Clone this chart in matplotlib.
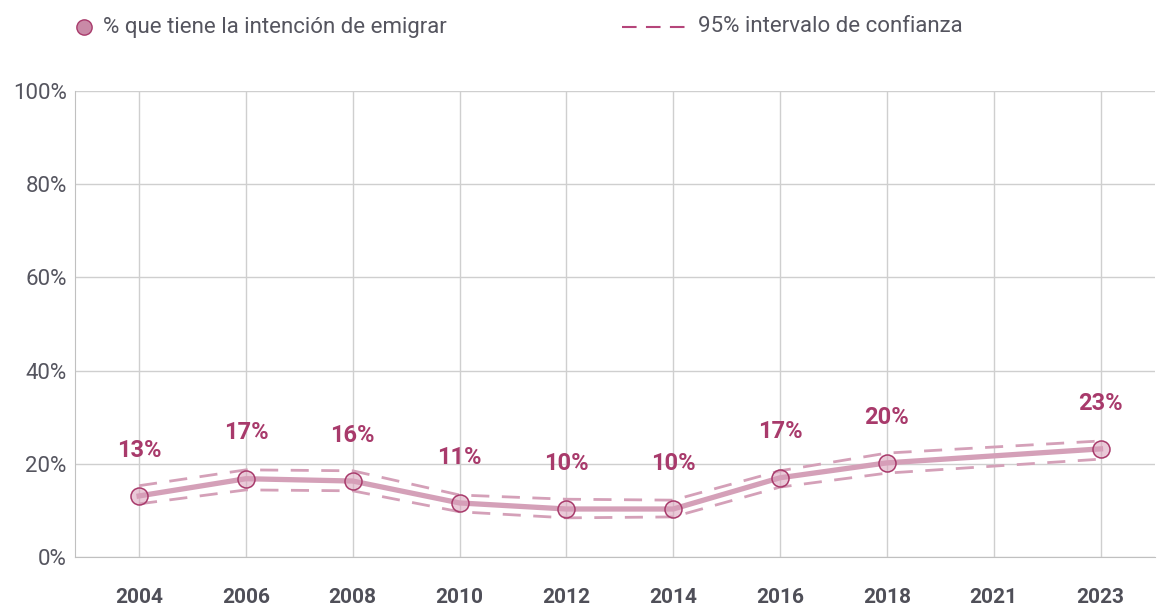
import numpy as np
import matplotlib
matplotlib.use("Agg")
import matplotlib.pyplot as plt
from matplotlib.lines import Line2D

plt.rcParams['font.family'] = ['Roboto', 'DejaVu Sans']

years = ["2004", "2006", "2008", "2010", "2012", "2014", "2016", "2018", "2021", "2023"]
pct = [13.1, 16.8, 16.3, 11.6, 10.3, 10.3, 17.0, 20.2, None, 23.2]
upper = [15.3, 18.7, 18.5, 13.3, 12.4, 12.2, 18.5, 22.3, None, 24.9]
lower = [11.4, 14.4, 14.2, 9.7, 8.4, 8.6, 15.0, 18.0, None, 21.0]
labels = ["13%", "17%", "16%", "11%", "10%", "10%", "17%", "20%", None, "23%"]
yticks = [0, 20, 40, 60, 80, 100]
ytick_labels = ["0%", "20%", "40%", "60%", "80%", "100%"]
legend_point = "% que tiene la intención de emigrar"
legend_ci = "95% intervalo de confianza"

LINE = "#d4a0b8"
DARK = "#a83a6b"
GRID = "#cfcfcf"
TXT = "#55555f"

fig = plt.figure(figsize=(11.57, 6.07), dpi=100)
ax = fig.add_axes([75 / 1157, 1 - 557 / 607, (1155 - 75) / 1157, (557 - 91) / 607])

x_all = np.arange(len(years))
idx = [i for i, v in enumerate(pct) if v is not None]
xs = x_all[idx]
ys = np.array([pct[i] for i in idx])
ups = np.array([upper[i] for i in idx])
los = np.array([lower[i] for i in idx])

ax.plot(xs, ups, color=LINE, lw=2.0, dashes=(6.5, 4.5), zorder=3)
ax.plot(xs, los, color=LINE, lw=2.0, dashes=(6.5, 4.5), zorder=3)
ax.plot(xs, ys, color=LINE, lw=3.8, zorder=4, solid_joinstyle='round')
ax.scatter(xs, ys, s=150, facecolor=(0.85, 0.62, 0.72, 0.55), edgecolor=DARK, linewidth=1.1, zorder=5)

for i in idx:
    ax.annotate(labels[i], (x_all[i], pct[i]), xytext=(0, 33), textcoords='offset points',
                ha='center', va='center', fontsize=17, fontweight='bold', color=DARK, zorder=6)

ax.set_xlim(-0.6, 9.51)
ax.set_ylim(0, 100)
ax.set_xticks(x_all)
ax.set_xticklabels(years, fontsize=15, fontweight='bold', color="#4f4f58")
ax.set_yticks(yticks)
ax.set_yticklabels(ytick_labels, fontsize=16, color=TXT)
ax.tick_params(axis='x', length=0, pad=22)
ax.tick_params(axis='y', length=0, pad=6)
ax.grid(True, color=GRID, lw=1.0)
ax.set_axisbelow(True)
for s in ['top', 'right']:
    ax.spines[s].set_visible(False)
ax.spines['left'].set_color("#c0c0c0")
ax.spines['bottom'].set_color("#c0c0c0")

# legend
fig.lines.append(Line2D([84 / 1157], [1 - 27 / 607], transform=fig.transFigure, marker='o',
                        markersize=11, markerfacecolor="#c98aa7", markeredgecolor=DARK,
                        markeredgewidth=1.0, linestyle='None'))
fig.text(103 / 1157, 1 - 27 / 607, legend_point, fontsize=16, color=TXT, va='center', ha='left')
fig.lines.append(Line2D([622 / 1157, 685 / 1157], [1 - 27 / 607, 1 - 27 / 607], transform=fig.transFigure,
                        color="#b5457a", lw=1.5, dashes=(7, 4.5)))
fig.text(698 / 1157, 1 - 27 / 607, legend_ci, fontsize=16, color=TXT, va='center', ha='left')

fig.savefig("out.png", dpi=100, facecolor='white')
